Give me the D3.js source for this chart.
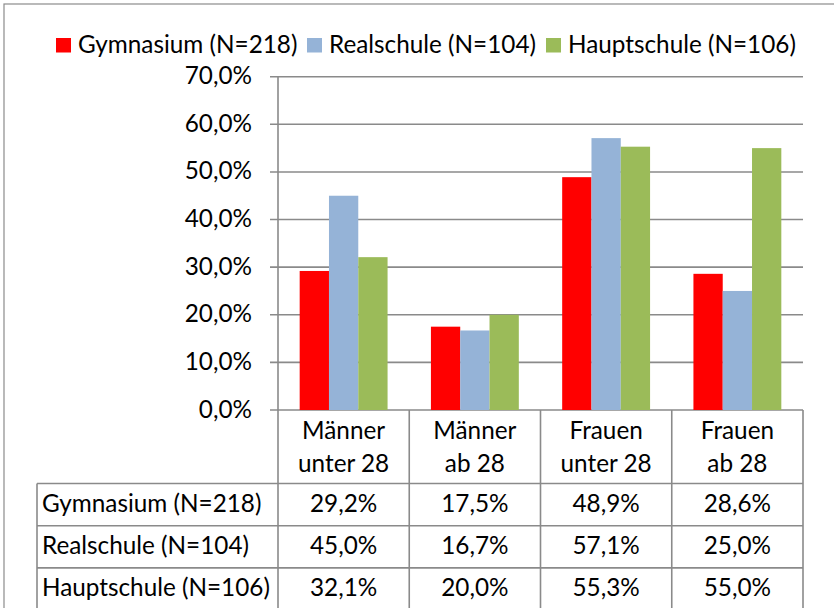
<!DOCTYPE html>
<html>
<head>
<meta charset="utf-8">
<script src="https://cdn.jsdelivr.net/npm/d3@7"></script>
<style>
    body { margin: 0; background: #fff; }
    svg text { font-family: Lato, "Open Sans", sans-serif; fill: #000; }
</style>
</head>
<body>
<svg id="vis" width="834" height="608"></svg>
<script>
// chart data
const categories = [
    ["Männer", "unter 28"],
    ["Männer", "ab 28"],
    ["Frauen", "unter 28"],
    ["Frauen", "ab 28"]
];
const seriesNames = ["Gymnasium (N=218)", "Realschule (N=104)", "Hauptschule (N=106)"];
const gymnasium = [29.2, 17.5, 48.9, 28.6];
const realschule = [45.0, 16.7, 57.1, 25.0];
const hauptschule = [32.1, 20.0, 55.3, 55.0];
const yTicks = [0, 10, 20, 30, 40, 50, 60, 70];
const colors = ["#ff0000", "#95b3d7", "#9bbb59"];

const series = [gymnasium, realschule, hauptschule];

var width = 834,
    height = 608;

const plot = { left: 278, right: 803, top: 76.7, bottom: 410 };
const fontSize = 24.3;
const gridColor = "#8a8a8a";

var svg = d3.select("svg#vis");

function fmt(v) {
    return v.toFixed(1).replace(".", ",") + "%";
}

// scales
var x = d3.scaleBand()
    .domain(d3.range(categories.length))
    .range([plot.left, plot.right]);

var xInner = d3.scaleBand()
    .domain(d3.range(series.length))
    .range([0, x.bandwidth()])
    .paddingOuter(0.74);

var y = d3.scaleLinear()
    .domain([0, 70])
    .range([plot.bottom, plot.top]);

// outer frame (cut off at right and bottom)
svg.append("rect")
    .attr("x", 4).attr("y", 4)
    .attr("width", width + 10).attr("height", height + 10)
    .attr("fill", "none")
    .attr("stroke", "#8c8c8c")
    .attr("stroke-width", 1.2);

// gridlines + ticks
svg.append("g").attr("class", "grid")
    .selectAll("line")
    .data(yTicks)
    .enter()
    .append("line")
    .attr("x1", plot.left - 8)
    .attr("x2", plot.right)
    .attr("y1", d => y(d))
    .attr("y2", d => y(d))
    .attr("stroke", gridColor)
    .attr("stroke-width", 1.6);

// y tick labels
svg.append("g").attr("class", "y-labels")
    .selectAll("text")
    .data(yTicks)
    .enter()
    .append("text")
    .attr("x", 252)
    .attr("y", d => y(d) + 7.5)
    .attr("text-anchor", "end")
    .style("font-size", fontSize + "px")
    .text(d => fmt(d));

// bars
var groups = svg.append("g").attr("class", "bars")
    .selectAll("g")
    .data(series)
    .enter()
    .append("g")
    .attr("fill", (d, i) => colors[i]);

groups.each(function(values, si) {
    d3.select(this).selectAll("rect")
        .data(values)
        .enter()
        .append("rect")
        .attr("x", (d, ci) => x(ci) + xInner(si))
        .attr("width", xInner.bandwidth())
        .attr("y", d => y(d))
        .attr("height", d => y(0) - y(d));
});

// data table
const rowTop = 483.5, rowH = 42.2, tableLeft = 37;
var table = svg.append("g").attr("class", "table");

// horizontal lines of table
table.selectAll("line.h")
    .data(d3.range(series.length))
    .enter()
    .append("line")
    .attr("class", "h")
    .attr("x1", tableLeft)
    .attr("x2", plot.right)
    .attr("y1", d => rowTop + d * rowH)
    .attr("y2", d => rowTop + d * rowH)
    .attr("stroke", gridColor)
    .attr("stroke-width", 1.6);

// vertical lines (category borders + axis)
var vx = d3.range(categories.length + 1).map(i => i < categories.length ? x(i) : plot.right);
table.selectAll("line.v")
    .data(vx)
    .enter()
    .append("line")
    .attr("class", "v")
    .attr("x1", d => d)
    .attr("x2", d => d)
    .attr("y1", (d, i) => i == 0 ? plot.top : plot.bottom)
    .attr("y2", height + 5)
    .attr("stroke", gridColor)
    .attr("stroke-width", 1.6);

table.append("line")
    .attr("x1", tableLeft).attr("x2", tableLeft)
    .attr("y1", rowTop).attr("y2", height + 5)
    .attr("stroke", gridColor)
    .attr("stroke-width", 1.6);

// category labels (two lines)
table.selectAll("text.cat")
    .data(categories)
    .enter()
    .append("text")
    .attr("class", "cat")
    .attr("text-anchor", "middle")
    .style("font-size", fontSize + "px")
    .each(function(d, i) {
        let t = d3.select(this);
        t.append("tspan").attr("x", x(i) + x.bandwidth() / 2).attr("y", 438.5).text(d[0]);
        t.append("tspan").attr("x", x(i) + x.bandwidth() / 2).attr("y", 471.5).text(d[1]);
    });

// row labels + values
series.forEach(function(values, si) {
    let base = rowTop + si * rowH + 28;
    table.append("text")
        .attr("x", 42)
        .attr("y", base)
        .style("font-size", fontSize + "px")
        .text(seriesNames[si]);

    table.selectAll("text.val" + si)
        .data(values)
        .enter()
        .append("text")
        .attr("class", "val" + si)
        .attr("x", (d, ci) => x(ci) + x.bandwidth() / 2)
        .attr("y", base)
        .attr("text-anchor", "middle")
        .style("font-size", fontSize + "px")
        .text(d => fmt(d));
});

// legend
const legendX = [56, 307, 546];
var legend = svg.append("g").attr("class", "legend");
seriesNames.forEach(function(name, i) {
    legend.append("rect")
        .attr("x", legendX[i])
        .attr("y", 38)
        .attr("width", 15)
        .attr("height", 14.5)
        .attr("fill", colors[i]);
    legend.append("text")
        .attr("x", legendX[i] + 22)
        .attr("y", 53)
        .style("font-size", fontSize + "px")
        .text(name);
});
</script>
</body>
</html>
